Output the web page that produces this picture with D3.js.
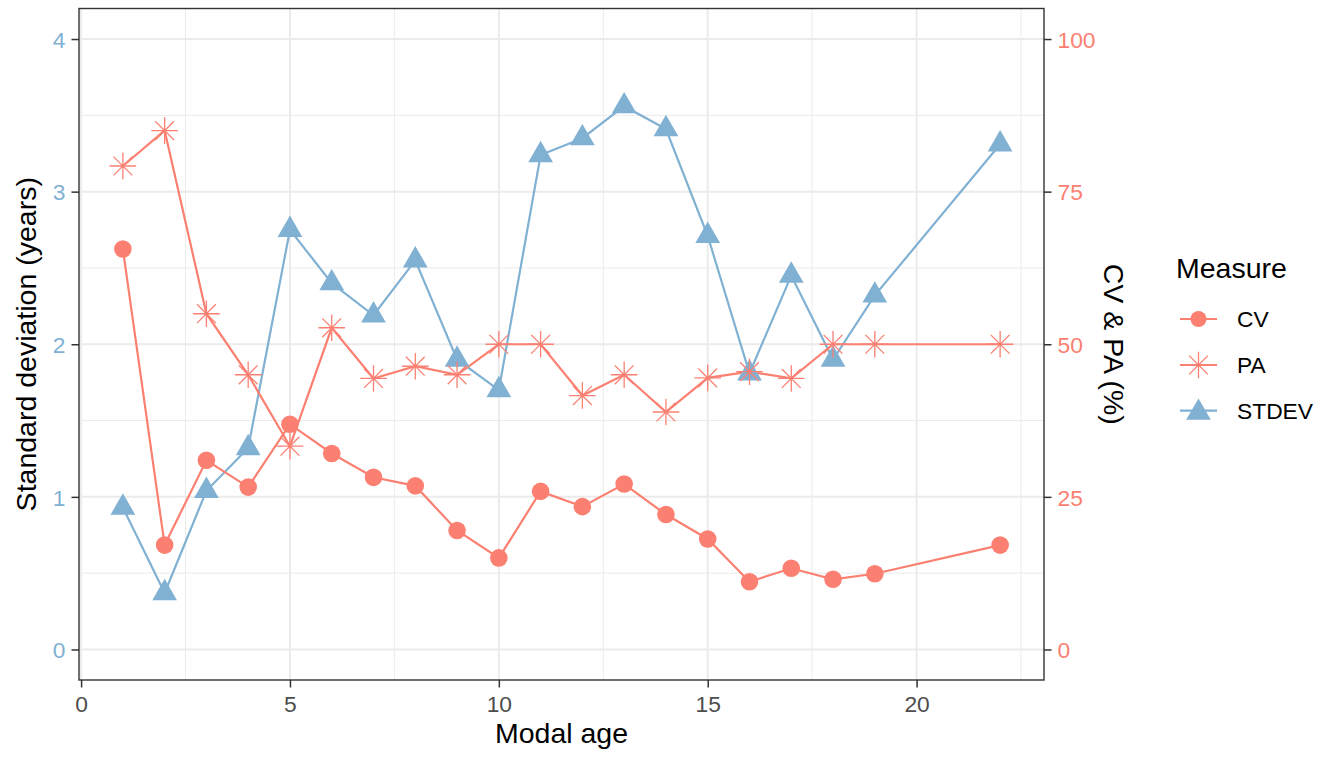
<!DOCTYPE html>
<html>
<head>
<meta charset="utf-8">
<script src="https://cdn.jsdelivr.net/npm/d3@7"></script>
<style>
  body { margin: 0; background: #fff; }
  text { font-family: "Liberation Sans", Arial, sans-serif; }
</style>
</head>
<body>
<div id="chart"></div>
<script>

// data
var ages = [1, 2, 3, 4, 5, 6, 7, 8, 9, 10, 11, 12, 13, 14, 15, 16, 17, 18, 19, 22];
var stdev = [0.93, 0.37, 1.04, 1.32, 2.75, 2.40, 2.19, 2.55, 1.90, 1.70, 3.24, 3.35, 3.56, 3.41, 2.71, 1.81, 2.45, 1.90, 2.32, 3.31];
var cv = [65.6, 17.1, 31.0, 26.6, 36.9, 32.1, 28.2, 26.8, 19.5, 15.0, 25.9, 23.4, 27.1, 22.1, 18.1, 11.1, 13.3, 11.5, 12.4, 17.1];
var pa = [79.2, 85.0, 55.0, 45.0, 33.3, 52.7, 44.4, 46.4, 45.0, 50.0, 50.0, 41.6, 45.0, 38.9, 44.5, 45.5, 44.4, 50.0, 50.0, 50.0];

var xTicks = [0, 5, 10, 15, 20];
var xMinor = [2.5, 7.5, 12.5, 17.5, 22.5];
var yTicks = [0, 1, 2, 3, 4];
var yMinor = [0.5, 1.5, 2.5, 3.5];
var y2Ticks = [0, 25, 50, 75, 100];
var measures = ["CV", "PA", "STDEV"];

var width = 1329;
var height = 758;
var panel = {left: 79, right: 1044, top: 8.5, bottom: 680};

var red = "#FB8072";
var blue = "#80B1D3";

var svg = d3.select("#chart")
  .append("svg")
    .attr("width", width)
    .attr("height", height);

var x = d3.scaleLinear()
  .domain([-0.05, 23.05])
  .range([panel.left, panel.right]);

var y = d3.scaleLinear()
  .domain([-0.2, 4.2])
  .range([panel.bottom, panel.top]);

// secondary axis, percent = years * 25
var y2 = d3.scaleLinear()
  .domain([-5, 105])
  .range([panel.bottom, panel.top]);

// grid
var grid = svg.append("g");
grid.selectAll(".xminor").data(xMinor).enter().append("line")
  .attr("x1", d => x(d)).attr("x2", d => x(d))
  .attr("y1", panel.top).attr("y2", panel.bottom)
  .attr("stroke", "#EBEBEB").attr("stroke-width", 1);
grid.selectAll(".yminor").data(yMinor).enter().append("line")
  .attr("x1", panel.left).attr("x2", panel.right)
  .attr("y1", d => y(d)).attr("y2", d => y(d))
  .attr("stroke", "#EBEBEB").attr("stroke-width", 1);
grid.selectAll(".xmajor").data(xTicks).enter().append("line")
  .attr("x1", d => x(d)).attr("x2", d => x(d))
  .attr("y1", panel.top).attr("y2", panel.bottom)
  .attr("stroke", "#EBEBEB").attr("stroke-width", 2);
grid.selectAll(".ymajor").data(yTicks).enter().append("line")
  .attr("x1", panel.left).attr("x2", panel.right)
  .attr("y1", d => y(d)).attr("y2", d => y(d))
  .attr("stroke", "#EBEBEB").attr("stroke-width", 2);

// axes
var xAxis = svg.append("g")
  .attr("transform", "translate(0," + panel.bottom + ")")
  .call(d3.axisBottom(x).tickValues(xTicks).tickFormat(d3.format("d")).tickSize(7.5).tickPadding(6).tickSizeOuter(0));
var yAxis = svg.append("g")
  .attr("transform", "translate(" + panel.left + ",0)")
  .call(d3.axisLeft(y).tickValues(yTicks).tickFormat(d3.format("d")).tickSize(7.5).tickPadding(6).tickSizeOuter(0));
var y2Axis = svg.append("g")
  .attr("transform", "translate(" + panel.right + ",0)")
  .call(d3.axisRight(y2).tickValues(y2Ticks).tickFormat(d3.format("d")).tickSize(7.5).tickPadding(6).tickSizeOuter(0));

[xAxis, yAxis, y2Axis].forEach(function(a) {
  a.select(".domain").remove();
  a.selectAll(".tick line").attr("stroke", "#333333").attr("stroke-width", 1.5);
  a.selectAll("text").attr("font-size", 22.8).attr("font-family", "Liberation Sans, Arial, sans-serif");
});
xAxis.selectAll("text").attr("fill", "#4D4D4D").attr("dy", null).attr("y", 31.5);
yAxis.selectAll("text").attr("fill", blue).attr("dy", "0.36em");
y2Axis.selectAll("text").attr("fill", red).attr("dy", "0.36em");

var line = d3.line()
  .x(d => x(d[0]))
  .y(d => y(d[1]));

var stdevPts = ages.map((a, i) => [a, stdev[i]]);
var cvPts = ages.map((a, i) => [a, y.invert(y2(cv[i]))]);
var paPts = ages.map((a, i) => [a, y.invert(y2(pa[i]))]);

// lines
svg.append("path").datum(stdevPts).attr("d", line)
  .attr("fill", "none").attr("stroke", blue).attr("stroke-width", 2.2);
svg.append("path").datum(cvPts).attr("d", line)
  .attr("fill", "none").attr("stroke", red).attr("stroke-width", 2.2);
svg.append("path").datum(paPts).attr("d", line)
  .attr("fill", "none").attr("stroke", red).attr("stroke-width", 2.2);

var triangle = d3.symbol().type(d3.symbolTriangle).size(265);

function asterisk(a) {
  var d = a / Math.SQRT2;
  return "M0," + (-a) + "L0," + a + "M" + (-a) + ",0L" + a + ",0" +
    "M" + (-d) + "," + (-d) + "L" + d + "," + d + "M" + (-d) + "," + d + "L" + d + "," + (-d);
}

// points
svg.selectAll(".tri").data(stdevPts).enter().append("path")
  .attr("d", triangle)
  .attr("transform", d => "translate(" + x(d[0]) + "," + y(d[1]) + ")")
  .attr("fill", blue);
svg.selectAll(".dot").data(cvPts).enter().append("circle")
  .attr("cx", d => x(d[0])).attr("cy", d => y(d[1])).attr("r", 8.8)
  .attr("fill", red);
svg.selectAll(".star").data(paPts).enter().append("path")
  .attr("d", asterisk(13.3))
  .attr("transform", d => "translate(" + x(d[0]) + "," + y(d[1]) + ")")
  .attr("fill", "none").attr("stroke", red).attr("stroke-width", 1.3);

// panel border
svg.append("rect")
  .attr("x", panel.left).attr("y", panel.top)
  .attr("width", panel.right - panel.left).attr("height", panel.bottom - panel.top)
  .attr("fill", "none").attr("stroke", "#333333").attr("stroke-width", 1.4);

// axis titles
svg.append("text")
  .attr("x", (panel.left + panel.right) / 2).attr("y", 742.5)
  .attr("text-anchor", "middle").attr("font-size", 28.5)
  .text("Modal age");
svg.append("text")
  .attr("transform", "translate(35.5," + (panel.top + panel.bottom) / 2 + ")rotate(-90)")
  .attr("text-anchor", "middle").attr("font-size", 28.5)
  .text("Standard deviation (years)");
svg.append("text")
  .attr("transform", "translate(1104," + (panel.top + panel.bottom) / 2 + ")rotate(90)")
  .attr("text-anchor", "middle").attr("font-size", 28.5)
  .text("CV & PA (%)");

// legend
var legend = svg.append("g");
legend.append("text")
  .attr("x", 1176).attr("y", 277.7)
  .attr("font-size", 28.5)
  .text("Measure");

var keyY = [319, 365, 410.7];
var keyColor = [red, red, blue];
measures.forEach(function(m, i) {
  var k = legend.append("g").attr("transform", "translate(1198.5," + keyY[i] + ")");
  k.append("line").attr("x1", -18.5).attr("x2", 18.5)
    .attr("stroke", keyColor[i]).attr("stroke-width", 2.2);
  if (m == "CV") {
    k.append("circle").attr("r", 8).attr("fill", red);
  } else if (m == "PA") {
    k.append("path").attr("d", asterisk(13.3)).attr("fill", "none")
      .attr("stroke", red).attr("stroke-width", 1.3);
  } else {
    k.append("path").attr("d", triangle).attr("transform", "translate(0,2)").attr("fill", blue);
  }
  legend.append("text")
    .attr("x", 1237).attr("y", keyY[i]).attr("dy", "0.36em")
    .attr("font-size", 22.8)
    .text(m);
});

</script>
</body>
</html>
